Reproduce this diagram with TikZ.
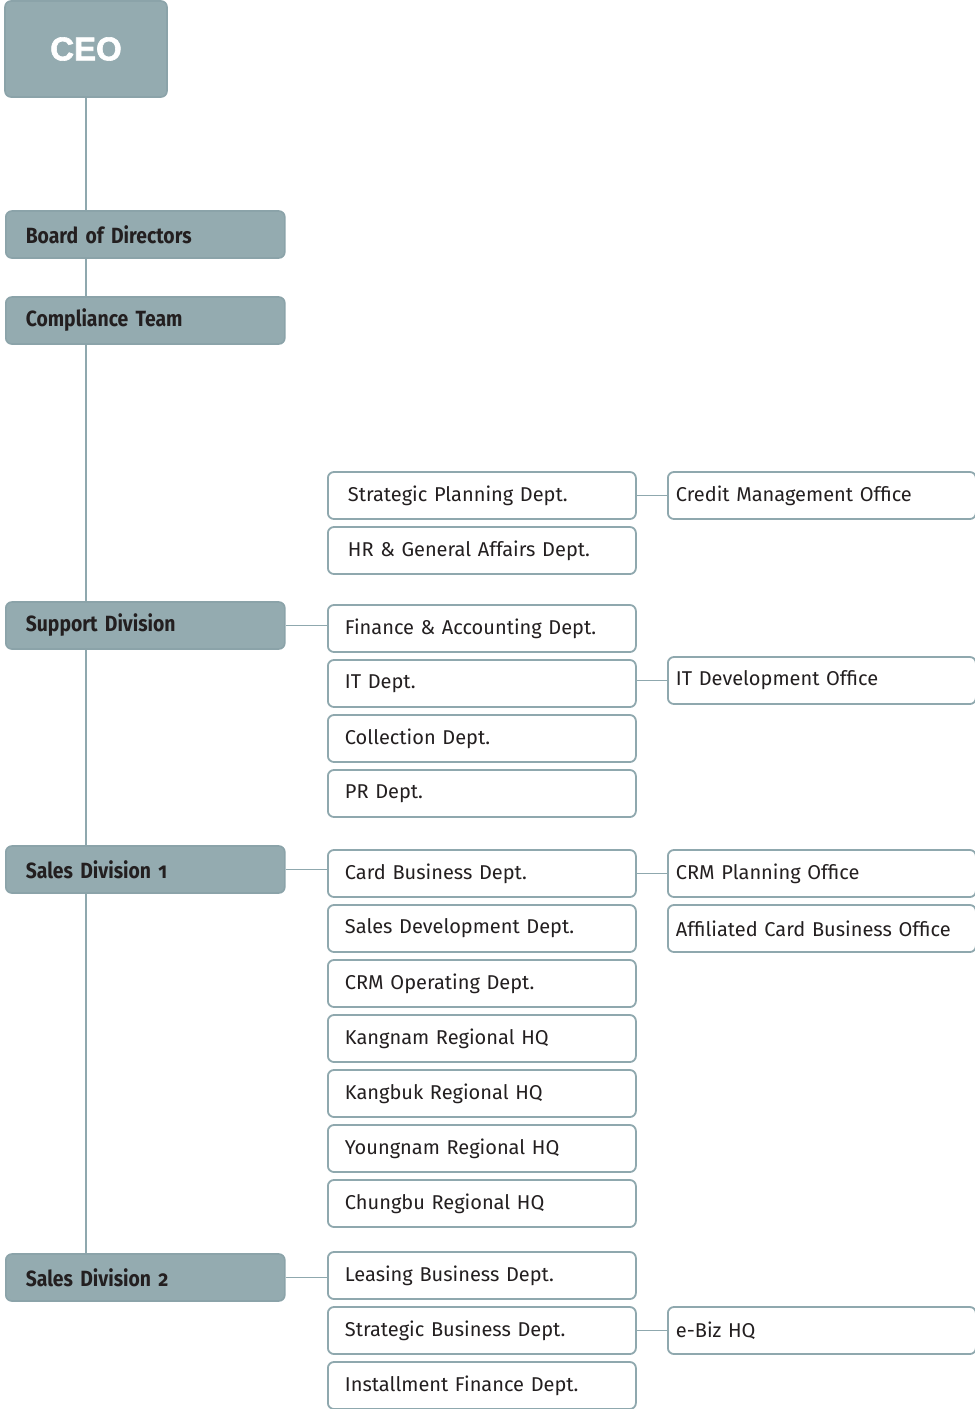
\documentclass[tikz,border=0pt]{standalone}
\usepackage{fontspec}
\setmainfont{Fira Sans}
\newfontfamily\headfont[FakeStretch=0.88, WordSpace=0.6]{Fira Sans}
\newfontfamily\ceofont[BoldFont={Liberation Sans Bold}, BoldFeatures={FakeBold=1.8}]{Liberation Sans}
\usetikzlibrary{backgrounds}

\definecolor{divfill}{HTML}{94ABB0}
\definecolor{divline}{HTML}{8BA3A9}
\definecolor{boxline}{HTML}{8FA8AE}
\definecolor{txt}{HTML}{231F20}

\tikzset{
  ceobox/.style={draw=divline, fill=divfill, rounded corners=3pt, line width=0.8pt,
    minimum width=81pt, minimum height=48pt, text=white,
    font=\ceofont\bfseries\fontsize{16.5}{19}\selectfont},
  divbox/.style={draw=divline, fill=divfill, rounded corners=3pt, line width=0.8pt,
    anchor=west, minimum height=23.5pt, text width=119.5pt, inner xsep=10pt,
    inner ysep=0pt, align=left, text=txt,
    font=\headfont\bfseries\fontsize{11}{13}\selectfont},
  deptbox/.style={draw=boxline, fill=white, rounded corners=3pt, line width=0.9pt,
    anchor=west, minimum height=23.5pt, text width=137pt, inner xsep=8.5pt,
    inner ysep=0pt, align=left, text=txt, font=\fontsize{10}{12}\selectfont},
  officebox/.style={deptbox, text width=146pt, inner xsep=4pt},
  link/.style={draw=boxline, line width=0.6pt},
}

\begin{document}
\begin{tikzpicture}[x=0.5pt, y=-0.5pt]
  \useasboundingbox (0,0) rectangle (975,1409);

  % top of the chart
  \node[ceobox] (ceo) at (86,49) {\raisebox{-1pt}{CEO}};
  \node[divbox] (board) at (5,234.5) {Board of Directors};
  \node[divbox] (comp) at (5,320.5) {Compliance Team};
  \node[divbox] (sup) at (5,625.5) {Support Division};
  \node[divbox] (sd1) at (5,869.5) {Sales Division {\addfontfeature{Numbers=OldStyle}1}};
  \node[divbox] (sd2) at (5,1277.5) {Sales Division {\addfontfeature{Numbers=OldStyle}2}};

  % departments
  \node[deptbox] (stratp) at (327,495.5) {\hspace{1.5pt}Strategic Planning Dept.};
  \node[deptbox] (hr) at (327,550.5) {\hspace{1.5pt}HR \& General Affairs Dept.};
  \node[deptbox] (fin) at (327,628.5) {Finance \& Accounting Dept.};
  \node[deptbox] (it) at (327,683.5) {IT Dept.};
  \node[deptbox] (coll) at (327,738.5) {Collection Dept.};
  \node[deptbox] (pr) at (327,793.5) {PR Dept.};
  \node[deptbox] (card) at (327,873.5) {Card Business Dept.};
  \node[deptbox] (salesdev) at (327,928.5) {Sales Development Dept.};
  \node[deptbox] (crmop) at (327,983.5) {CRM Operating Dept.};
  \node[deptbox] (kangnam) at (327,1038.5) {Kangnam Regional HQ};
  \node[deptbox] (kangbuk) at (327,1093.5) {Kangbuk Regional HQ};
  \node[deptbox] (youngnam) at (327,1148.5) {Youngnam Regional HQ};
  \node[deptbox] (chungbu) at (327,1203.5) {Chungbu Regional HQ};
  \node[deptbox] (leasing) at (327,1275.5) {Leasing Business Dept.};
  \node[deptbox] (stratb) at (327,1330.5) {Strategic Business Dept.};
  \node[deptbox] (install) at (327,1385.5) {Installment Finance Dept.};

  % offices
  \node[officebox] (credit) at (667,495.5) {Credit Management Office};
  \node[officebox] (itdev) at (667,680.5) {IT Development Office};
  \node[officebox] (crmplan) at (667,873.5) {CRM Planning Office};
  \node[officebox] (affil) at (667,928.5) {Affiliated Card Business Office};
  \node[officebox] (ebiz) at (667,1330.5) {e-Biz HQ};

  \begin{scope}[on background layer]
    \draw[link] (ceo.south) -- (ceo.south |- sd2.north);
    \draw[link] (sup.east) -- (sup.east -| fin.west);
    \draw[link] (sd1.east) -- (sd1.east -| card.west);
    \draw[link] (sd2.east) -- (sd2.east -| leasing.west);
    \draw[link] (stratp.east) -- (credit.west);
    \draw[link] (itdev.west -| it.east) -- (itdev.west);
    \draw[link] (card.east) -- (crmplan.west);
    \draw[link] (stratb.east) -- (ebiz.west);
  \end{scope}
\end{tikzpicture}
\end{document}
